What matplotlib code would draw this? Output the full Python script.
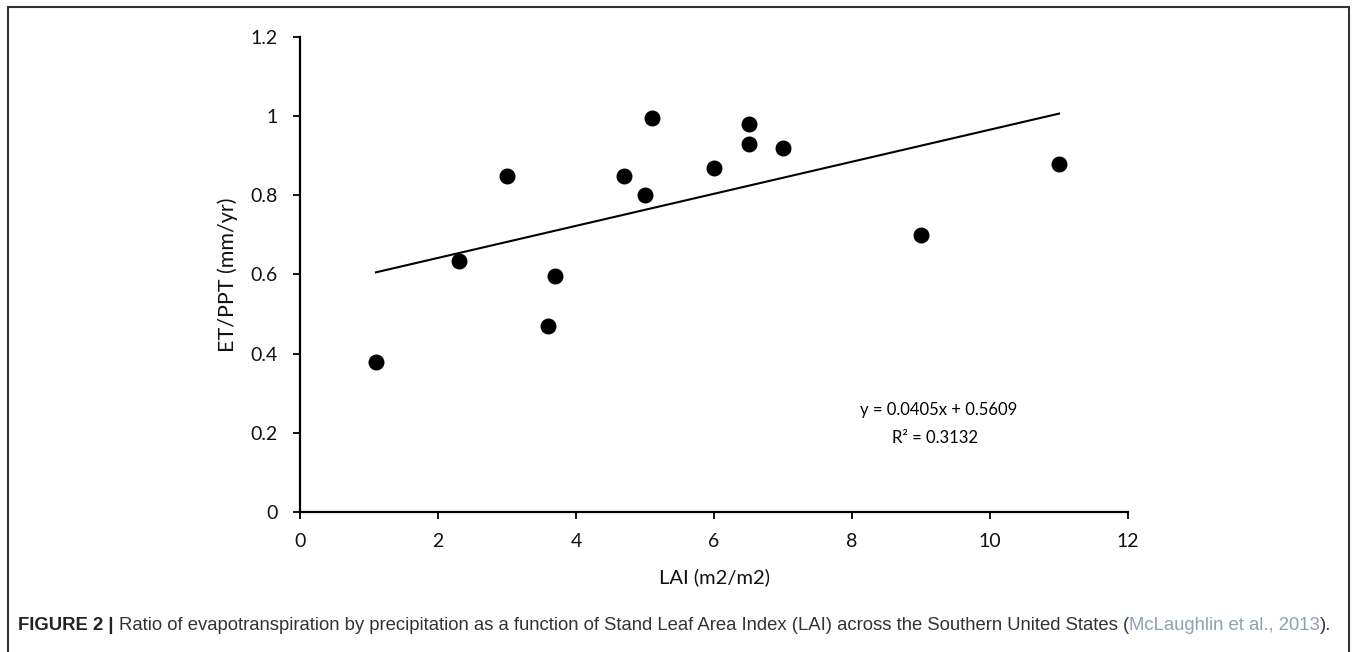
import matplotlib
matplotlib.use("Agg")
import matplotlib.pyplot as plt
from matplotlib.patches import Rectangle
import numpy as np

# LAI vs ET/PPT observations
lai = [1.1, 2.3, 3.0, 3.6, 3.7, 4.7, 5.0, 5.1, 6.0, 6.5, 6.5, 7.0, 9.0, 11.0]
et_ppt = [0.38, 0.635, 0.85, 0.47, 0.595, 0.85, 0.80, 0.995, 0.87, 0.98, 0.93, 0.92, 0.70, 0.88]

# linear trend reported on the chart
slope = 0.0405
intercept = 0.5609
r2 = 0.3132

x_ticks = [0, 2, 4, 6, 8, 10, 12]
y_ticks = [0, 0.2, 0.4, 0.6, 0.8, 1.0, 1.2]
y_tick_labels = ["0", "0.2", "0.4", "0.6", "0.8", "1", "1.2"]

plt.rcParams["font.family"] = ["Lato", "DejaVu Sans"]

fig = plt.figure(figsize=(13.57, 6.52), dpi=100)
ax = fig.add_axes([0.2211, 0.2147, 0.6102, 0.7286])

ax.scatter(lai, et_ppt, s=110, color="black", zorder=3)
fx = np.array([min(lai), max(lai)])
ax.plot(fx, slope * fx + intercept, color="black", linewidth=1.5)

ax.set_xlim(0, 12)
ax.set_ylim(0, 1.2)
ax.set_xticks(x_ticks)
ax.set_yticks(y_ticks)
ax.set_yticklabels(y_tick_labels)
for s in ["top", "right"]:
    ax.spines[s].set_visible(False)
for s in ["left", "bottom"]:
    ax.spines[s].set_linewidth(1.6)
ax.tick_params(axis="both", direction="out", length=5, width=1.4, labelsize=14, colors="#111111")
ax.tick_params(axis="y", pad=11)
ax.tick_params(axis="x", pad=10)

ax.set_xlabel("LAI (m2/m2)", fontsize=14.5, labelpad=13, color="#111111")
ax.set_ylabel("ET/PPT (mm/yr)", fontsize=15.5, labelpad=9, color="#111111")

ax.text(9.26, 0.258, f"y = {slope}x + {intercept}", fontsize=12, ha="center", va="center")
ax.text(9.2, 0.187, f"R² = {r2}", fontsize=12, ha="center", va="center")

# outer frame
fig.patches.append(Rectangle((8 / 1357, -0.05), 1341 / 1357, 1 - 7 / 652 + 0.05,
                             transform=fig.transFigure, fill=False,
                             edgecolor="#333333", linewidth=1.5))

# caption built from styled pieces, sized to span the frame width
cap_font = ["Liberation Sans", "DejaVu Sans"]
pieces = [
    ("FIGURE 2 | ", "bold", "#222222"),
    ("Ratio of evapotranspiration by precipitation as a function of Stand Leaf Area Index (LAI) "
     "across the Southern United States (", "normal", "#333333"),
    ("McLaughlin et al., 2013", "normal", "#8ea0b6"),
    (").", "normal", "#333333"),
]
renderer = fig.canvas.get_renderer()
base = 14.0
total = 0.0
for txt, wt, col in pieces:
    t = fig.text(0, 0, txt, fontsize=base, family=cap_font, weight=wt)
    total += t.get_window_extent(renderer=renderer).width
    t.remove()
size = base * 1321 / total

x0 = 18 / 1357
ycap = 1 - 626 / 652
for txt, wt, col in pieces:
    t = fig.text(x0, ycap, txt, fontsize=size, family=cap_font, weight=wt,
                 color=col, va="center", ha="left")
    x0 += t.get_window_extent(renderer=renderer).width / fig.bbox.width

fig.savefig("out.png", dpi=100)
